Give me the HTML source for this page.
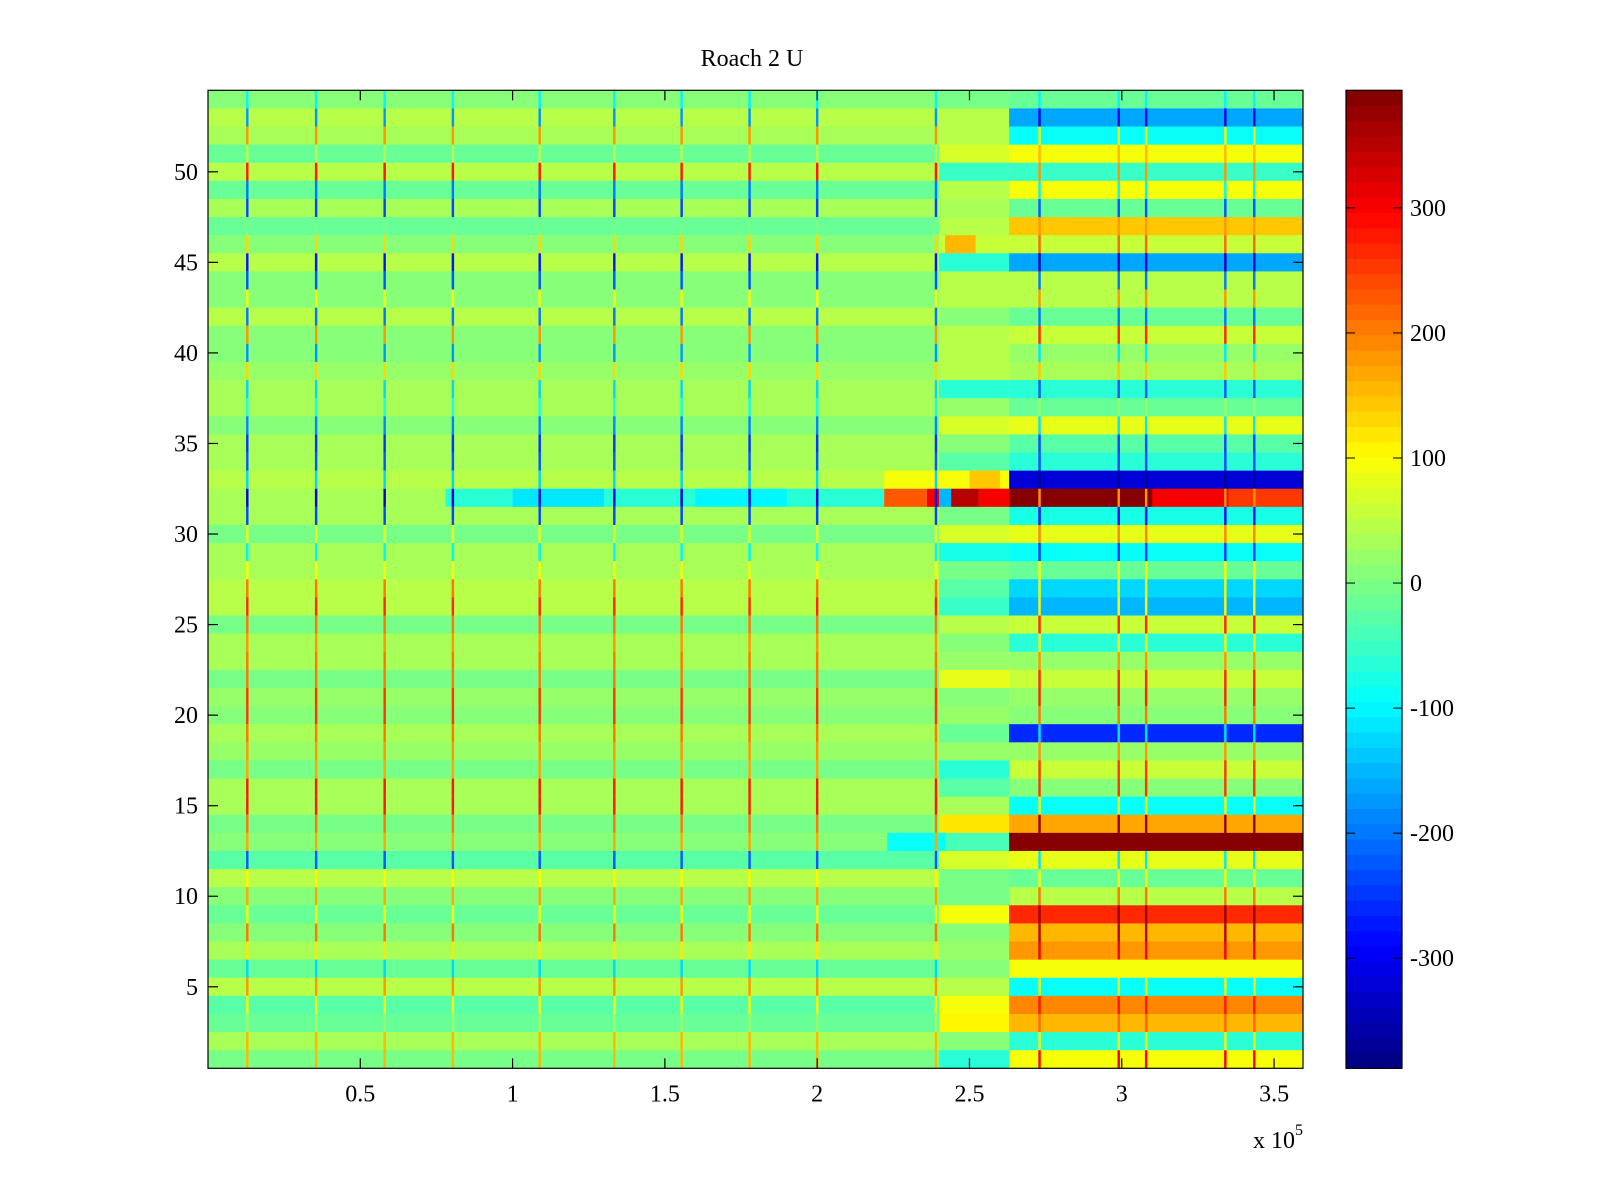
<!DOCTYPE html>
<html><head><meta charset="utf-8">
<style>
html,body{margin:0;padding:0;background:#fff;}
svg{display:block;font-family:"Liberation Serif",serif;}
</style></head>
<body>
<svg id="chart" width="1600" height="1200" viewBox="0 0 1600 1200" xmlns="http://www.w3.org/2000/svg">
<rect width="1600" height="1200" fill="#fff"/>
<text x="752" y="66" font-size="24" text-anchor="middle">Roach 2 U</text>
<g id="cells"></g>
<g id="axes"></g>
<g id="cbar"></g>
</svg>
<script>
// rows listed from top (row 54) to bottom (row 1)
const leftBase = [10,40,35,-10,40,-10,30,-20,10,45,10,10,40,10,10,20,30,30,10,30,35,40,30,30,0,30,30,
  40,40,0,30,30,0,20,10,30,20,0,30,30,0,10,-30,40,10,-10,10,30,-10,40,-30,-10,30,0];
const leftSpike = [-100,-170,180,40,280,-200,-230,0,130,-270,-220,100,-200,180,-180,130,-130,-80,-190,-250,-220,-120,-320,-240,80,-100,100,
  200,260,200,180,200,200,250,250,200,180,170,280,280,200,170,-220,110,170,100,200,120,-120,180,90,20,160,160];
const midBase = [0,40,40,70,-50,40,30,40,60,-60,40,40,10,40,40,40,-60,20,70,10,-30,100,200,0,70,-80,0,
  -30,-50,50,10,20,80,10,20,-20,20,-60,-30,30,120,-40,70,0,0,90,10,20,10,40,100,110,10,-70];
const rightBase = [-20,-160,-90,100,-50,90,-20,140,60,-160,50,50,-10,60,20,30,-70,-20,80,-30,-60,-320,370,-80,80,-90,-20,
  -130,-150,60,-60,20,60,20,10,-260,20,60,10,-90,170,390,80,-20,50,260,150,180,100,-90,190,160,-70,90];
const rightSpike = [-100,-300,90,150,180,-100,-220,180,220,-330,-200,180,-200,260,-110,140,-220,20,-110,-230,-240,-370,180,-280,190,-250,100,
  90,110,260,100,180,260,260,200,-110,180,250,250,100,380,390,-110,100,200,370,350,300,90,90,280,220,100,300];
// spike positions (x10^5)
const leftSpikeX = [0.129,0.355,0.58,0.804,1.089,1.334,1.555,1.778,2.0,2.39];
const rightSpikeX = [2.73,2.99,3.08,3.34,3.435];
// special segments: row, x start, x end, value
const segRow = [46,33,33,32,32,32,32,32,32,32,32,32,32,32,13];
const segX0 = [2.42,2.22,2.5,0.78,1.0,1.6,2.22,2.36,2.40,2.44,2.53,2.63,3.1,3.35,2.23];
const segX1 = [2.52,2.42,2.6,2.22,1.3,1.9,2.36,2.40,2.44,2.53,2.63,3.1,3.35,3.6,2.42];
const segVal = [160,100,140,-60,-110,-100,230,300,-150,350,300,390,300,250,-90];
const xTicks = [0.5,1,1.5,2,2.5,3,3.5];
const xTickLabels = ["0.5","1","1.5","2","2.5","3","3.5"];
const yTicks = [5,10,15,20,25,30,35,40,45,50];
const cTicks = [-300,-200,-100,0,100,200,300];

const NS="http://www.w3.org/2000/svg";
const PL=208, PR=1303, PT=90.3, PB=1068.3;
const XMIN=0, XMAX=3.595, YMIN=0.5, YMAX=54.5, CMIN=-388, CMAX=394;
const LEFT_END=2.4, MID_END=2.63, SW=0.004;
const CBL=1346, CBR=1402;
function xs(v){return PL+(v-XMIN)/(XMAX-XMIN)*(PR-PL);}
function ys(v){return PT+(YMAX-v)/(YMAX-YMIN)*(PB-PT);}
function cs(v){return PT+(CMAX-v)/(CMAX-CMIN)*(PB-PT);}
function jet(v){
  let t=(v-CMIN)/(CMAX-CMIN); t=Math.max(0,Math.min(0.9999,t));
  t=(Math.floor(t*64)+0.5)/64;
  const c=x=>Math.round(255*Math.max(0,Math.min(1,x)));
  return `rgb(${c(1.5-Math.abs(4*t-3))},${c(1.5-Math.abs(4*t-2))},${c(1.5-Math.abs(4*t-1))})`;
}
function mk(tag,attrs,parent){const e=document.createElementNS(NS,tag);for(const k in attrs)e.setAttribute(k,attrs[k]);parent.appendChild(e);return e;}

const cells=document.getElementById('cells');
function cell(row,x0,x1,v,name){
  const y0=ys(row+0.5), y1=ys(row-0.5);
  const a=Math.max(xs(x0),PL), b=Math.min(xs(x1),PR);
  const r=mk('rect',{x:a,y:y0,width:Math.max(0,b-a),height:y1-y0+0.4,fill:jet(v)},cells);
  
  
}
for(let i=0;i<54;i++){
  const row=54-i;
  cell(row,XMIN,LEFT_END,leftBase[i],'cell-left-row-'+row);
  cell(row,LEFT_END,MID_END,midBase[i],'cell-mid-row-'+row);
  cell(row,MID_END,XMAX,rightBase[i],'cell-right-row-'+row);
  for(let s=0;s<segRow.length;s++) if(segRow[s]===row) cell(row,segX0[s],segX1[s],segVal[s],'cell-segment-row-'+row);
  for(const sx of leftSpikeX) cell(row,sx-SW,sx+SW,leftSpike[i],'spike-row-'+row);
  for(const sx of rightSpikeX) cell(row,sx-SW,sx+SW,rightSpike[i],'spike-row-'+row);
}

const axes=document.getElementById('axes');
const frame=mk('rect',{x:PL,y:PT,width:PR-PL,height:PB-PT,fill:'none',stroke:'#000','stroke-width':1.2},axes);


xTicks.forEach((t,k)=>{
  const x=xs(t);
  mk('line',{x1:x,x2:x,y1:PB,y2:PB-10,stroke:'#000','stroke-width':1.2},axes);
  mk('line',{x1:x,x2:x,y1:PT,y2:PT+10,stroke:'#000','stroke-width':1.2},axes);
  const tx=mk('text',{x:x,y:PB+33,'font-size':24,'text-anchor':'middle'},axes);
  tx.textContent=xTickLabels[k];
  
  
});
yTicks.forEach(t=>{
  const y=ys(t);
  mk('line',{x1:PL,x2:PL+10,y1:y,y2:y,stroke:'#000','stroke-width':1.2},axes);
  mk('line',{x1:PR,x2:PR-10,y1:y,y2:y,stroke:'#000','stroke-width':1.2},axes);
  const tx=mk('text',{x:PL-10,y:y+8,'font-size':24,'text-anchor':'end'},axes);
  tx.textContent=String(t);
  
  
});
const mult=mk('text',{x:1253,y:1148,'font-size':24},axes);


mult.innerHTML='x 10<tspan font-size="16" dy="-13">5</tspan>';

const cbar=document.getElementById('cbar');
for(let k=0;k<64;k++){
  const v0=CMIN+k*(CMAX-CMIN)/64, v1=CMIN+(k+1)*(CMAX-CMIN)/64;
  const r=mk('rect',{x:CBL,y:cs(v1),width:CBR-CBL,height:cs(v0)-cs(v1)+0.5,fill:jet((v0+v1)/2)},cbar);
  
  
}
mk('rect',{x:CBL,y:PT,width:CBR-CBL,height:PB-PT,fill:'none',stroke:'#000','stroke-width':1.2},cbar);
cTicks.forEach(t=>{
  const y=cs(t);
  mk('line',{x1:CBL,x2:CBL+9,y1:y,y2:y,stroke:'#000','stroke-width':1},cbar);
  mk('line',{x1:CBR,x2:CBR-9,y1:y,y2:y,stroke:'#000','stroke-width':1},cbar);
  const tx=mk('text',{x:CBR+8,y:y+8,'font-size':24},cbar);
  tx.textContent=String(t);
  
  
});
</script>
</body></html>
